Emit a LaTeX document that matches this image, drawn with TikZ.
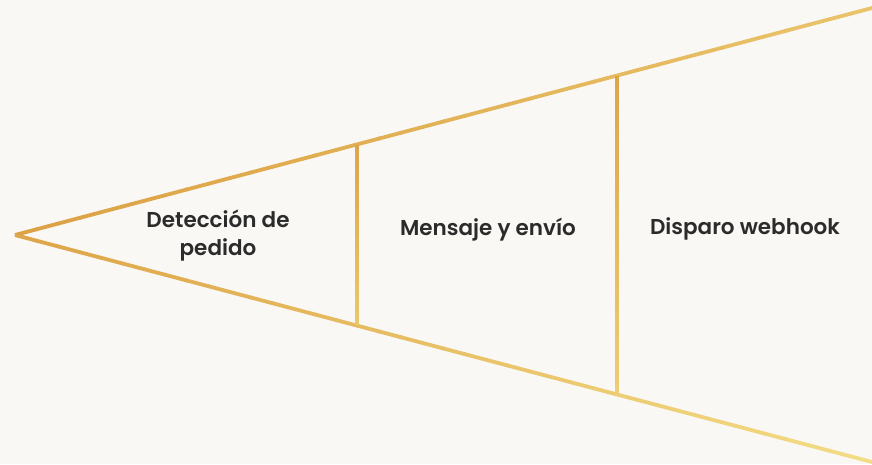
\documentclass[tikz,border=0pt]{standalone}
\usepackage{fontspec}
\usetikzlibrary{calc}
\newfontfamily\lblfont{Poppins SemiBold}
\definecolor{bgcol}{HTML}{FAF8F5}
\definecolor{goldA}{HTML}{DCA245}
\definecolor{goldB}{HTML}{F4E08A}
\definecolor{txtcol}{HTML}{2B2B2B}
\tikzset{
  lbl/.style={font=\lblfont\fontsize{21.5}{28}\selectfont, text=txtcol, align=center},
}
\newcommand{\gradseg}[4]{%
  \foreach \i in {0,...,39}{%
    \pgfmathsetmacro{\ta}{\i/40}%
    \pgfmathsetmacro{\tb}{(\i+1.05)/40}%
    \pgfmathtruncatemacro{\pp}{#3+(#4-#3)*(\i+0.5)/40}%
    \colorlet{segcol}{goldB!\pp!goldA}%
    \draw[segcol, line width=3.8pt, line cap=butt] ($(#1)!\ta!(#2)$) -- ($(#1)!\tb!(#2)$);
  }%
}
\begin{document}
\begin{tikzpicture}[x=1pt,y=-1pt]
\fill[bgcol] (0,0) rectangle (872,464);
\useasboundingbox (0,0) rectangle (872,464);
\coordinate (apex) at (15,235);
\coordinate (topR) at (872,8);
\coordinate (botR) at (872,462);
\coordinate (v1t) at (357,144.5);
\coordinate (v1b) at (357,325);
\coordinate (v2t) at (617,75.5);
\coordinate (v2b) at (617,394);
\gradseg{apex}{topR}{0}{55}
\gradseg{apex}{botR}{5}{95}
\gradseg{v1t}{v1b}{5}{60}
\gradseg{v2t}{v2b}{5}{70}
\node[lbl] (n1) at (218,235.5) {Detección de\\pedido};
\node[lbl] (n2) at (488,230) {Mensaje y envío};
\node[lbl] (n3) at (745,229) {Disparo webhook};
\end{tikzpicture}
\end{document}
